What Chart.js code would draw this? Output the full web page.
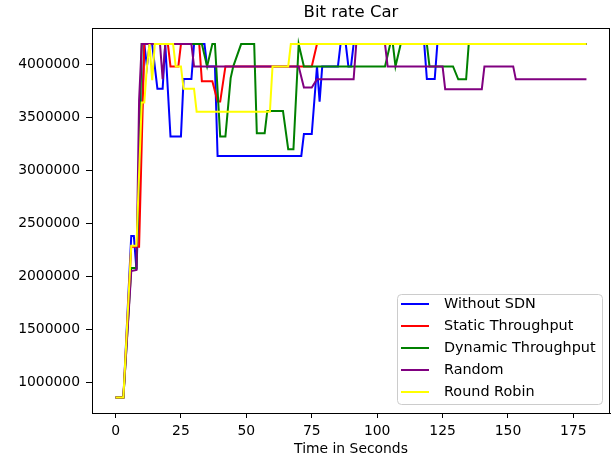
<!DOCTYPE html>
<html>
<head>
<meta charset="utf-8">
<script src="https://cdn.jsdelivr.net/npm/chart.js@4.4.1/dist/chart.umd.min.js"></script>
<style>
  html, body { margin: 0; padding: 0; background: #fff; }
  #wrap { width: 613px; height: 459px; }
</style>
</head>
<body>
<div id="wrap"><canvas id="grafico" width="613" height="459"></canvas></div>
<script>
// values (time in s, bit rate)
const tituloGrafico = "Bit rate Car";
const tituloX = "Time in Seconds";
const ticksX = [0, 25, 50, 75, 100, 125, 150, 175];
const ticksY = [1000000, 1500000, 2000000, 2500000, 3000000, 3500000, 4000000];

const series = ["Without SDN", "Static Throughput", "Dynamic Throughput", "Random", "Round Robin"];
const colores = ["#0000ff", "#ff0000", "#008000", "#800080", "#ffff00"];

const withoutSdnT = [0, 3, 6, 7, 8, 11, 12, 13, 14, 16, 18, 19, 21, 25, 26, 29, 30, 34, 35, 38, 39, 71, 72, 75, 77, 78, 79, 85, 86, 88, 89, 90, 91, 118, 119, 122, 123, 180];
const withoutSdnV = [857000, 857000, 2380000, 2380000, 2060000, 4190000, 3980000, 4190000, 4190000, 3770000, 3770000, 4190000, 3320000, 3320000, 3860000, 3860000, 4190000, 4190000, 3980000, 3980000, 3136000, 3136000, 3343000, 3343000, 3980000, 3648000, 3980000, 3980000, 4190000, 4190000, 3980000, 3980000, 4190000, 4190000, 3860000, 3860000, 4190000, 4190000];

const staticT = [0, 3, 6, 9, 11, 20, 21, 24, 25, 32, 33, 37, 39, 40, 42, 75, 77, 180];
const staticV = [857000, 857000, 2280000, 2280000, 4190000, 4190000, 3980000, 3980000, 4190000, 4190000, 3840000, 3840000, 3648000, 3648000, 3980000, 3980000, 4190000, 4190000];

const dynamicT = [0, 3, 6, 8, 10, 33, 35, 37, 38, 40, 42, 44, 45, 48, 53, 54, 57, 58, 64, 66, 68, 70, 72, 103, 105, 106, 107, 109, 119, 120, 129, 131, 134, 135, 180];
const dynamicV = [857000, 857000, 2080000, 2080000, 4190000, 4190000, 3980000, 4190000, 4190000, 3320000, 3320000, 3870000, 3980000, 4190000, 4190000, 3350000, 3350000, 3560000, 3560000, 3199000, 3199000, 4190000, 3980000, 3980000, 4190000, 4190000, 3980000, 4190000, 4190000, 3980000, 3980000, 3858000, 3858000, 4190000, 4190000];

const randomT = [0, 3, 6, 8, 9, 10, 17, 18, 19, 29, 30, 70, 72, 75, 77, 91, 92, 103, 104, 125, 126, 140, 141, 152, 153, 180];
const randomV = [857000, 857000, 2050000, 2060000, 3660000, 4190000, 4190000, 3860000, 4190000, 4190000, 3980000, 3980000, 3780000, 3780000, 3859000, 3859000, 4190000, 4190000, 3980000, 3980000, 3765000, 3765000, 3980000, 3980000, 3858000, 3858000];

const roundRobinT = [0, 3, 6, 8, 10, 11, 12, 13, 14, 15, 22, 23, 25, 26, 30, 31, 59, 60, 66, 67, 180];
const roundRobinV = [857000, 857000, 2288000, 2288000, 3640000, 3640000, 3980000, 4190000, 3850000, 4190000, 4190000, 3980000, 3980000, 3770000, 3770000, 3553000, 3553000, 3980000, 3980000, 4190000, 4190000];

const tiempos = [withoutSdnT, staticT, dynamicT, randomT, roundRobinT];
const valores = [withoutSdnV, staticV, dynamicV, randomV, roundRobinV];

const fuente = "DejaVu Sans";

// later series sit on top, like in matplotlib
const datasets = series.map((nombre, i) => ({
  label: nombre,
  data: tiempos[i].map((t, j) => ({ x: t, y: valores[i][j] })),
  borderColor: colores[i],
  backgroundColor: colores[i],
  borderWidth: 2,
  pointRadius: 0,
  tension: 0,
  fill: false,
  order: series.length - i
}));

// title, frame and legend drawn by hand to sit where matplotlib put them
const extras = {
  id: "extras",
  afterDraw(chart) {
    const ctx = chart.ctx;
    const a = chart.chartArea;
    ctx.save();
    ctx.strokeStyle = "#000";
    ctx.lineWidth = 1;
    ctx.strokeRect(a.left + 0.5, a.top + 0.5, a.right - a.left - 1, a.bottom - a.top);

    ctx.fillStyle = "#000";
    ctx.textAlign = "center";
    ctx.textBaseline = "middle";
    ctx.font = "16.5px '" + fuente + "'";
    ctx.fillText(tituloGrafico, (a.left + a.right) / 2, 13);
    ctx.font = "13.9px '" + fuente + "'";
    ctx.fillText(tituloX, (a.left + a.right) / 2, 449);

    // legend box
    const bx = 397.5, by = 294.5, bw = 205, bh = 110, r = 4;
    ctx.beginPath();
    ctx.moveTo(bx + r, by);
    ctx.arcTo(bx + bw, by, bx + bw, by + bh, r);
    ctx.arcTo(bx + bw, by + bh, bx, by + bh, r);
    ctx.arcTo(bx, by + bh, bx, by, r);
    ctx.arcTo(bx, by, bx + bw, by, r);
    ctx.closePath();
    ctx.fillStyle = "rgba(255,255,255,0.8)";
    ctx.fill();
    ctx.strokeStyle = "#cccccc";
    ctx.stroke();

    ctx.textAlign = "left";
    ctx.font = "14.4px '" + fuente + "'";
    series.forEach((nombre, i) => {
      const y = 304 + i * 22;
      ctx.strokeStyle = colores[i];
      ctx.lineWidth = 2;
      ctx.beginPath();
      ctx.moveTo(401, y);
      ctx.lineTo(429, y);
      ctx.stroke();
      ctx.fillStyle = "#000";
      ctx.fillText(nombre, 444, y);
    });
    ctx.restore();
  }
};

new Chart(document.getElementById("grafico"), {
  type: "line",
  data: { datasets },
  options: {
    responsive: false,
    animation: false,
    devicePixelRatio: 1,
    layout: { padding: { top: 28, right: 3, left: 0, bottom: 0 } },
    plugins: { legend: { display: false }, title: { display: false }, tooltip: { enabled: false } },
    scales: {
      x: {
        type: "linear",
        min: -9,
        max: 189,
        afterBuildTicks: s => { s.ticks = ticksX.map(v => ({ value: v })); },
        afterFit: s => { s.height = 46; },
        grid: { display: true, drawOnChartArea: false, color: "#000", tickLength: 5 },
        border: { display: true, color: "#000" },
        ticks: { color: "#000", padding: 5, maxRotation: 0, font: { family: fuente, size: 13.9 } }
      },
      y: {
        type: "linear",
        min: 712000,
        max: 4342000,
        afterBuildTicks: s => { s.ticks = ticksY.map(v => ({ value: v })); },
        afterFit: s => { s.width = 92; },
        grid: { display: true, drawOnChartArea: false, color: "#000", tickLength: 6 },
        border: { display: true, color: "#000" },
        ticks: { color: "#000", padding: 6, callback: v => String(v), font: { family: fuente, size: 13.9 } }
      }
    }
  },
  plugins: [extras]
});
</script>
</body>
</html>
